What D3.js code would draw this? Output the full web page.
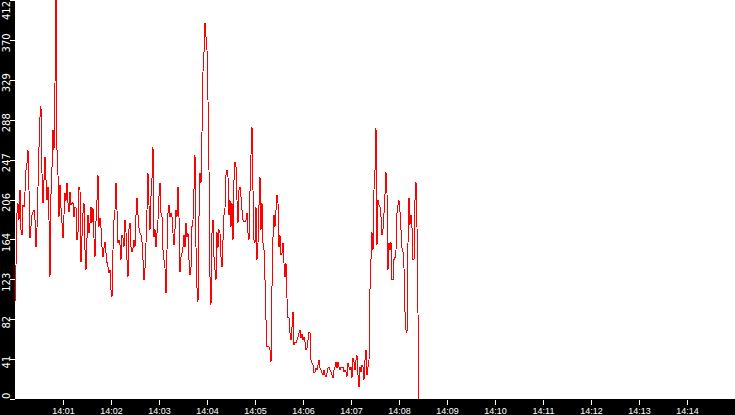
<!DOCTYPE html>
<html>
<head>
<meta charset="utf-8">
<script src="https://cdn.jsdelivr.net/npm/d3@7"></script>
<style>
  html, body { margin: 0; padding: 0; background: #fff; }
  svg { display: block; }
</style>
</head>
<body>
<div id="chart"></div>
<script>
// samples, one every 1.25 s starting 14:00:00
const startTime = new Date(2000, 0, 1, 14, 0, 0);
const stepMs = 1250;
const values = [
  100, 138, 192, 202, 185, 216, 175, 169, 200, 198, 214, 236, 244, 257, 216, 166,
  178, 190, 193, 195, 185, 157, 177, 219, 260, 291, 302, 233, 202, 226, 250, 226,
  205, 219, 185, 126, 211, 239, 278, 257, 326, 412, 257, 231, 188, 221, 197, 182,
  166, 190, 213, 205, 223, 202, 193, 214, 200, 202, 203, 188, 198, 197, 164, 172,
  219, 216, 141, 168, 192, 202, 154, 133, 166, 190, 171, 182, 198, 182, 197, 166,
  147, 183, 205, 231, 178, 187, 177, 157, 147, 156, 162, 151, 141, 136, 130, 133,
  113, 105, 154, 185, 195, 223, 195, 161, 164, 159, 144, 169, 166, 157, 185, 172,
  144, 126, 175, 182, 157, 152, 156, 164, 157, 190, 208, 190, 177, 171, 169, 162,
  144, 123, 135, 161, 195, 233, 200, 175, 209, 228, 260, 167, 175, 157, 171, 185,
  209, 223, 192, 188, 154, 144, 135, 109, 154, 192, 200, 188, 192, 188, 171, 159,
  175, 195, 188, 219, 188, 131, 147, 151, 157, 169, 157, 182, 167, 171, 144, 128,
  136, 178, 185, 216, 252, 157, 115, 100, 188, 233, 223, 276, 338, 358, 388, 374,
  360, 309, 236, 126, 97, 171, 185, 147, 133, 123, 172, 156, 175, 171, 147, 136,
  164, 190, 197, 231, 236, 229, 190, 205, 178, 202, 164, 226, 245, 240, 205, 182,
  216, 219, 209, 195, 185, 183, 183, 185, 192, 171, 164, 214, 252, 281, 216, 164,
  161, 198, 144, 161, 200, 229, 175, 202, 161, 154, 123, 82, 54, 54, 54, 51,
  38, 116, 167, 190, 178, 195, 211, 202, 157, 169, 149, 151, 161, 140, 126, 140,
  104, 84, 84, 68, 61, 74, 90, 56, 59, 58, 61, 64, 68, 71, 63, 67,
  61, 64, 59, 51, 53, 61, 69, 68, 40, 37, 35, 27, 28, 32, 30, 35,
  40, 32, 30, 27, 25, 30, 25, 23, 27, 32, 33, 30, 28, 25, 22, 30,
  33, 38, 32, 38, 33, 30, 33, 32, 33, 28, 30, 28, 23, 37, 33, 30,
  33, 22, 42, 38, 30, 40, 45, 25, 12, 33, 28, 35, 33, 20, 40, 51,
  25, 33, 40, 113, 144, 172, 154, 216, 236, 280, 159, 205, 200, 198, 188, 169,
  175, 192, 211, 234, 213, 133, 161, 154, 162, 123, 123, 144, 146, 154, 192, 200,
  205, 193, 175, 156, 152, 135, 90, 71, 68, 161, 208, 180, 190, 177, 144, 144,
  205, 224, 178, 89, 0
];
const xDomain = [new Date(2000, 0, 1, 14, 0, 0), new Date(2000, 0, 1, 14, 15, 0)];
const xTicks = ["14:01", "14:02", "14:03", "14:04", "14:05", "14:06", "14:07",
  "14:08", "14:09", "14:10", "14:11", "14:12", "14:13", "14:14"];
const yMax = 412;
const yTicks = [0, 41.2, 82.4, 123.6, 164.8, 206, 247.2, 288.4, 329.6, 370.8, 412];

const width = 735;
const height = 415;
const margin = { top: 0, right: 0, bottom: 16, left: 15 };
const plotW = width - margin.left - margin.right;
const plotH = height - margin.top - margin.bottom;

const data = values.map((v, i) => [new Date(startTime.getTime() + i * stepMs), v]);
const parseTick = d3.timeParse('%H:%M');
const tickDates = xTicks.map((s) => {
  const t = parseTick(s);
  return new Date(2000, 0, 1, t.getHours(), t.getMinutes(), 0);
});

const svg = d3
  .select('#chart')
  .append('svg')
  .attr('width', width)
  .attr('height', height)
  .style('font-family', '"DejaVu Sans", sans-serif');

// black frame, white plot area
svg.append('rect').attr('x', 0).attr('y', 0).attr('width', width).attr('height', height).attr('fill', '#000');
svg.append('rect')
  .attr('x', margin.left).attr('y', margin.top)
  .attr('width', plotW).attr('height', plotH)
  .attr('fill', '#fff');

const xScale = d3.scaleTime().domain(xDomain).range([margin.left, margin.left + plotW]);
const yScale = d3.scaleLinear().domain([0, yMax]).range([margin.top + plotH, margin.top]);

svg.append('clipPath').attr('id', 'plot-clip')
  .append('rect')
  .attr('x', margin.left).attr('y', margin.top)
  .attr('width', plotW).attr('height', plotH);

const line = d3.line()
  .x((d) => xScale(d[0]))
  .y((d) => yScale(d[1]));

svg.append('path')
  .datum(data)
  .attr('clip-path', 'url(#plot-clip)')
  .attr('fill', 'none')
  .attr('stroke', '#ff0000')
  .attr('stroke-width', 1)
  .attr('shape-rendering', 'crispEdges')
  .attr('d', line);

// x axis
const xAxis = d3.axisBottom(xScale)
  .tickValues(tickDates)
  .tickSize(5)
  .tickPadding(3)
  .tickFormat(d3.timeFormat('%H:%M'));

const gx = svg.append('g')
  .attr('transform', `translate(0,${margin.top + plotH + 1})`)
  .call(xAxis);
gx.select('.domain').remove();
gx.selectAll('line').attr('stroke', '#fff').attr('shape-rendering', 'crispEdges');
gx.selectAll('text').attr('fill', '#fff').attr('font-size', 9);

// y axis: ticks from d3, labels rotated and kept inside the plot height
const yAxis = d3.axisLeft(yScale).tickValues(yTicks).tickSize(5).tickFormat('');
const gy = svg.append('g')
  .attr('transform', `translate(${margin.left},0)`)
  .call(yAxis);
gy.select('.domain').remove();
gy.selectAll('line').attr('stroke', '#fff').attr('shape-rendering', 'crispEdges');

const yLabels = svg.append('g')
  .selectAll('text')
  .data(yTicks)
  .enter()
  .append('text')
  .attr('text-anchor', 'middle')
  .attr('fill', '#fff')
  .attr('font-size', 10)
  .text((d) => Math.floor(d));

yLabels.attr('transform', function (d) {
  const half = this.getComputedTextLength() / 2;
  let cy = yScale(d) + 3;
  cy = Math.max(margin.top + half + 1, Math.min(margin.top + plotH - half, cy));
  return `translate(9.5,${cy}) rotate(-90)`;
});
</script>
</body>
</html>
